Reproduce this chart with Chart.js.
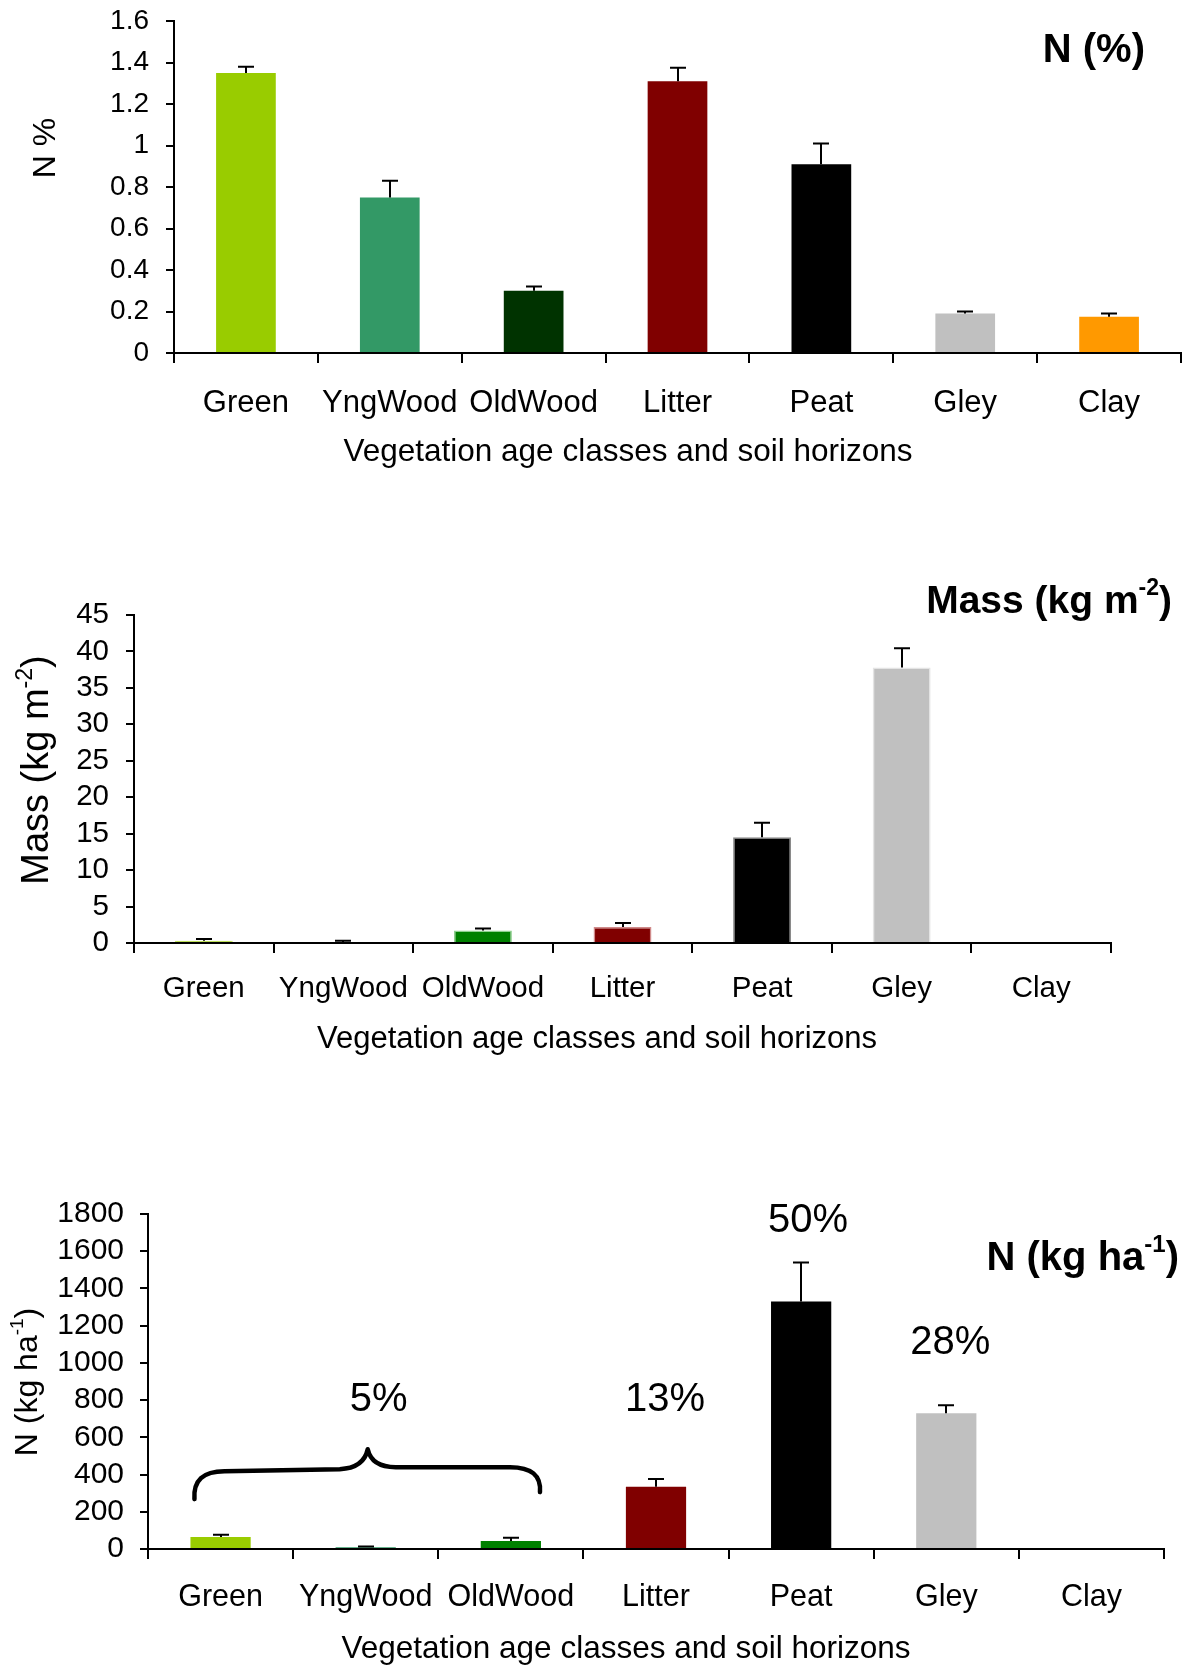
<!DOCTYPE html>
<html>
<head>
<meta charset="utf-8">
<script src="https://cdn.jsdelivr.net/npm/chart.js@4.4.1/dist/chart.umd.min.js"></script>
<style>
  html, body { margin: 0; padding: 0; background: #fff; }
  #page { position: relative; width: 1189px; height: 1666px; background: #fff; overflow: hidden; }
  canvas { position: absolute; left: 0; }
</style>
</head>
<body>
<div id="page">
  <canvas id="chartN" width="1189" height="480" style="top:0px"></canvas>
  <canvas id="chartMass" width="1189" height="530" style="top:540px"></canvas>
  <canvas id="chartStock" width="1189" height="516" style="top:1150px"></canvas>
</div>
<script>
// Vegetation age classes and soil horizons
const categories = ['Green', 'YngWood', 'OldWood', 'Litter', 'Peat', 'Gley', 'Clay'];

// Nitrogen concentration (%), mean and upper error
const nPercent    = [1.35, 0.75, 0.30, 1.31, 0.91, 0.19, 0.175];
const nPercentErr = [0.03, 0.08, 0.02, 0.065, 0.10, 0.01, 0.015];

// Dry mass (kg m-2); no clay mass reported
const massValues = [0.3, 0.15, 1.7, 2.2, 14.5, 37.8, null];
const massErr    = [0.25, 0.15, 0.28, 0.55, 2.0, 2.65, null];

// Nitrogen stock (kg ha-1); no clay stock reported
const nStock    = [65, 10, 43, 335, 1330, 730, null];
const nStockErr = [11, 3, 18, 41, 210, 42, null];

// Share of total N stock per group
const shareLabels = ['5%', '13%', '50%', '28%'];

// Y tick labels for each panel
const yTicksN     = [0, 0.2, 0.4, 0.6, 0.8, 1, 1.2, 1.4, 1.6];
const yTicksMass  = [0, 5, 10, 15, 20, 25, 30, 35, 40, 45];
const yTicksStock = [0, 200, 400, 600, 800, 1000, 1200, 1400, 1600, 1800];

const FONT = "'Liberation Sans', Arial, Helvetica, sans-serif";

const colorsN     = ['#99CC00', '#339966', '#003300', '#800000', '#000000', '#C0C0C0', '#FF9900'];
const colorsMass  = ['#99CC00', '#339966', '#008000', '#800000', '#000000', '#C0C0C0', '#FF9900'];
const bordersMass = ['#c6e466', '#1f5c3d', '#8fcf8f', '#d08a8a', '#8a8a8a', '#e4e4e4', '#FF9900'];
const colorsStock = ['#99CC00', '#339966', '#008000', '#800000', '#000000', '#C0C0C0', '#FF9900'];

// Draws a run of text pieces, some of them superscript, optionally rotated
function drawRich(ctx, parts, x, y, size, weight, align, rotate) {
  ctx.save();
  ctx.translate(x, y);
  if (rotate) ctx.rotate(rotate);
  const supSize = Math.round(size * 0.6);
  const fontFor = p => `${weight} ${p.sup ? supSize : size}px ${FONT}`;
  let total = 0;
  parts.forEach(p => { ctx.font = fontFor(p); total += ctx.measureText(p.t).width; });
  let cx = align === 'center' ? -total / 2 : (align === 'right' ? -total : 0);
  ctx.fillStyle = '#000';
  ctx.textBaseline = 'middle';
  ctx.textAlign = 'left';
  parts.forEach(p => {
    ctx.font = fontFor(p);
    ctx.fillText(p.t, cx, p.sup ? -size * 0.33 : 0);
    cx += ctx.measureText(p.t).width;
  });
  ctx.restore();
}

// Upper error whiskers with a cap
const errorBars = {
  id: 'errorBars',
  afterDatasetsDraw(chart, args, opts) {
    const { ctx } = chart;
    const y = chart.scales.y;
    const meta = chart.getDatasetMeta(0);
    const vals = chart.data.datasets[0].data;
    ctx.save();
    ctx.strokeStyle = '#000';
    ctx.lineWidth = 2;
    opts.err.forEach((e, i) => {
      if (e == null || vals[i] == null) return;
      const bx = Math.round(meta.data[i].x);
      const y0 = y.getPixelForValue(vals[i]);
      const y1 = y.getPixelForValue(vals[i] + e);
      ctx.beginPath();
      ctx.moveTo(bx, y0);
      ctx.lineTo(bx, y1);
      ctx.moveTo(bx - 8, y1);
      ctx.lineTo(bx + 8, y1);
      ctx.stroke();
    });
    ctx.restore();
  }
};

// Axis titles and panel heading
const panelText = {
  id: 'panelText',
  afterDraw(chart, args, o) {
    const { ctx } = chart;
    drawRich(ctx, o.yTitle, o.yTitleX, o.yTitleY, o.yTitleSize, 'normal', 'center', -Math.PI / 2);
    drawRich(ctx, [{ t: 'Vegetation age classes and soil horizons' }], o.xTitleX, o.xTitleY, o.xTitleSize, 'normal', 'center', 0);
    drawRich(ctx, o.heading, o.headX, o.headY, o.headSize, 'bold', 'right', 0);
  }
};

// Share labels and the brace grouping the vegetation classes
const shareNotes = {
  id: 'shareNotes',
  afterDraw(chart, args, o) {
    if (!o.enabled) return;
    const { ctx } = chart;
    const xs = chart.scales.x, ys = chart.scales.y;
    const meta = chart.getDatasetMeta(0);
    ctx.save();
    ctx.fillStyle = '#000';
    ctx.font = `40px ${FONT}`;
    ctx.textAlign = 'center';
    ctx.textBaseline = 'middle';
    o.at.forEach((cat, i) => {
      const x = xs.getPixelForValue(categories.indexOf(cat)) + o.dx[i];
      ctx.fillText(shareLabels[i], x, ys.getPixelForValue(o.atValue[i]));
    });
    // brace from the first bar's left edge to the third bar's right edge
    const b0 = meta.data[0], b2 = meta.data[2];
    const xL = b0.x - b0.width / 2 + 4, xR = b2.x + b2.width / 2 - 1;
    const xM = xs.getPixelForValue(1) + 2;
    const yEnd = ys.getPixelForValue(o.brace[0]);
    const yBar = ys.getPixelForValue(o.brace[1]);
    const yTip = ys.getPixelForValue(o.brace[2]);
    ctx.strokeStyle = '#000';
    ctx.lineWidth = 4.5;
    ctx.lineCap = 'round';
    ctx.lineJoin = 'round';
    ctx.beginPath();
    ctx.moveTo(xL, yEnd);
    ctx.quadraticCurveTo(xL - 2, yBar - 1, xL + 30, yBar - 1);
    ctx.lineTo(xM - 28, yBar - 3);
    ctx.quadraticCurveTo(xM - 4, yBar - 4, xM, yTip);
    ctx.quadraticCurveTo(xM + 4, yBar - 5, xM + 28, yBar - 5);
    ctx.lineTo(xR - 30, yBar - 5);
    ctx.quadraticCurveTo(xR + 2, yBar - 5, xR, yEnd - 7);
    ctx.stroke();
    ctx.restore();
  }
};

function makePanel(id, p) {
  const ctx = document.getElementById(id).getContext('2d');
  return new Chart(ctx, {
    type: 'bar',
    data: {
      labels: categories,
      datasets: [{
        data: p.values,
        backgroundColor: p.colors,
        borderColor: p.borders || p.colors,
        borderWidth: p.borders ? 1.5 : 0,
        categoryPercentage: 1,
        barPercentage: 0.415
      }]
    },
    options: {
      responsive: false,
      animation: false,
      devicePixelRatio: 1,
      layout: { padding: p.padding },
      plugins: {
        legend: { display: false },
        tooltip: { enabled: false },
        errorBars: { err: p.err },
        panelText: p.text,
        shareNotes: p.share || { enabled: false }
      },
      scales: {
        x: {
          afterFit: s => { s.height = 80; s.paddingLeft = 0; s.paddingRight = 0; },
          grid: { display: true, drawOnChartArea: false, drawTicks: true, tickLength: 10, color: '#000', lineWidth: 2, offset: true },
          border: { display: true, color: '#000', width: 2 },
          ticks: { color: '#000', font: { family: FONT, size: p.xTickSize }, padding: p.xTickPad, maxRotation: 0, autoSkip: false }
        },
        y: {
          min: p.yTicks[0],
          max: p.yTicks[p.yTicks.length - 1],
          afterFit: s => { s.width = 100; s.paddingTop = 0; s.paddingBottom = 0; },
          afterBuildTicks: s => { s.ticks = p.yTicks.map(v => ({ value: v })); },
          grid: { display: true, drawOnChartArea: false, drawTicks: true, tickLength: 8, color: '#000', lineWidth: 2 },
          border: { display: true, color: '#000', width: 2 },
          ticks: { color: '#000', font: { family: FONT, size: p.yTickSize }, padding: p.yTickPad, autoSkip: false, callback: v => String(v) }
        }
      }
    },
    plugins: [errorBars, panelText, shareNotes]
  });
}

makePanel('chartN', {
  values: nPercent, err: nPercentErr, colors: colorsN, yTicks: yTicksN,
  yTickSize: 28, yTickPad: 17, xTickSize: 31, xTickPad: 22,
  padding: { left: 74, right: 8, top: 21, bottom: 47 },
  text: {
    yTitle: [{ t: 'N %' }], yTitleX: 46, yTitleY: 148, yTitleSize: 32,
    xTitleX: 628, xTitleY: 452, xTitleSize: 31.5,
    heading: [{ t: 'N (%)' }], headX: 1145, headY: 51, headSize: 40
  }
});

makePanel('chartMass', {
  values: massValues, err: massErr, colors: colorsMass, borders: bordersMass, yTicks: yTicksMass,
  yTickSize: 29.5, yTickPad: 17, xTickSize: 29.5, xTickPad: 18,
  padding: { left: 34, right: 78, top: 75, bottom: 47 },
  text: {
    yTitle: [{ t: 'Mass (kg m' }, { t: '-2', sup: true }, { t: ')' }], yTitleX: 38, yTitleY: 230, yTitleSize: 38,
    xTitleX: 597, xTitleY: 499, xTitleSize: 31,
    heading: [{ t: 'Mass (kg m' }, { t: '-2', sup: true }, { t: ')' }], headX: 1172, headY: 62, headSize: 39
  }
});

makePanel('chartStock', {
  values: nStock, err: nStockErr, colors: colorsStock, yTicks: yTicksStock,
  yTickSize: 30, yTickPad: 16, xTickSize: 30.5, xTickPad: 20,
  padding: { left: 48, right: 25, top: 64, bottom: 37 },
  text: {
    yTitle: [{ t: 'N (kg ha' }, { t: '-1', sup: true }, { t: ')' }], yTitleX: 28, yTitleY: 232, yTitleSize: 32,
    xTitleX: 626, xTitleY: 499, xTitleSize: 31.5,
    heading: [{ t: 'N (kg ha' }, { t: '-1', sup: true }, { t: ')' }], headX: 1179, headY: 109, headSize: 40
  },
  share: {
    enabled: true,
    at: ['YngWood', 'Litter', 'Peat', 'Gley'],
    atValue: [800, 800, 1760, 1106],
    dx: [13, 9, 7, 4],
    brace: [268, 413, 536]
  }
});
</script>
</body>
</html>
